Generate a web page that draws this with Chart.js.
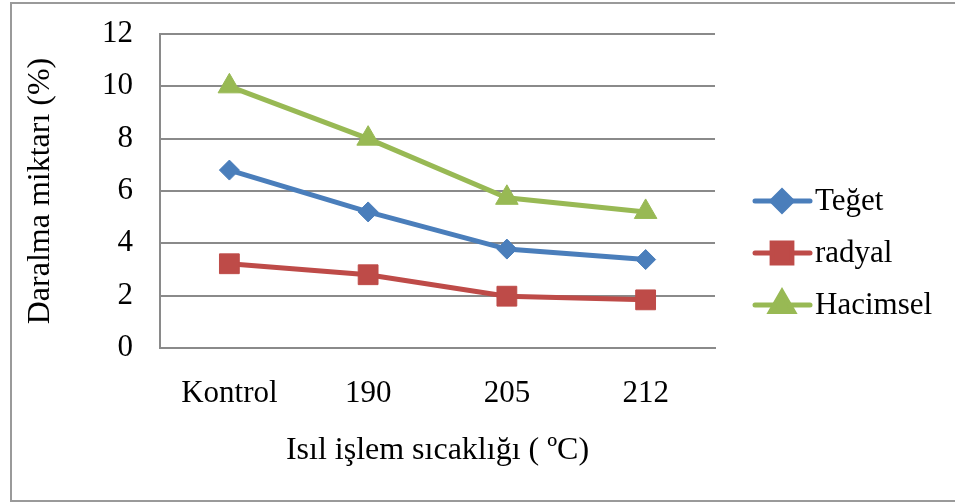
<!DOCTYPE html>
<html>
<head>
<meta charset="utf-8">
<script src="https://cdn.jsdelivr.net/npm/chart.js@4/dist/chart.umd.min.js"></script>
<style>
  html, body { margin: 0; padding: 0; background: #ffffff; }
  #wrap { width: 955px; height: 504px; position: relative; }
</style>
</head>
<body>
<div id="wrap"><canvas id="c" width="955" height="504"></canvas></div>
<script>
// Shrinkage after heat treatment (%)
const categories = ['Kontrol', '190', '205', '212'];
const teget    = [6.8, 5.2, 3.78, 3.38];
const radyal   = [3.22, 2.8, 1.98, 1.84];
const hacimsel = [10.0, 8.0, 5.74, 5.2];
const seriesNames = ['Teğet', 'radyal', 'Hacimsel'];
const yTicks = [0, 2, 4, 6, 8, 10, 12];

const FONT = '"Liberation Serif", "Times New Roman", serif';
const FS = 31;
const FS_TITLE = 32;
const GRID = '#8a8a8a';

// Legend: line segment with the series marker, then the series name
const sideLegend = {
  id: 'sideLegend',
  afterDraw(chart) {
    const ctx = chart.ctx;
    const x0 = 755, x1 = 810, xm = 782, tx = 815;
    const rows = [201, 253, 305];
    ctx.save();
    chart.data.datasets.forEach((ds, i) => {
      const y = rows[i];
      ctx.strokeStyle = ds.borderColor;
      ctx.lineWidth = ds.borderWidth;
      ctx.lineCap = 'round';
      ctx.beginPath();
      ctx.moveTo(x0, y);
      ctx.lineTo(x1, y);
      ctx.stroke();
      ctx.fillStyle = ds.pointBackgroundColor;
      ctx.strokeStyle = ds.pointBorderColor;
      Chart.helpers.drawPoint(ctx, {
        pointStyle: ds.pointStyle,
        radius: ds.pointRadius,
        rotation: 0,
        borderWidth: 1
      }, xm, y);
      ctx.fillStyle = '#000000';
      ctx.font = FS + 'px ' + FONT;
      ctx.textAlign = 'left';
      ctx.textBaseline = 'middle';
      ctx.fillText(ds.label, tx, y + 1);
    });
    ctx.restore();
  }
};

// Outer frame of the figure
const frame = {
  id: 'frame',
  beforeDraw(chart) {
    const ctx = chart.ctx;
    ctx.save();
    ctx.fillStyle = '#ffffff';
    ctx.fillRect(0, 0, chart.width, chart.height);
    ctx.strokeStyle = '#9a9a9a';
    ctx.lineWidth = 2;
    ctx.beginPath();
    ctx.moveTo(960, 3);
    ctx.lineTo(11, 3);
    ctx.lineTo(11, 501);
    ctx.lineTo(960, 501);
    ctx.stroke();
    ctx.restore();
  }
};

const mk = (label, data, color, style, r) => ({
  label, data,
  borderColor: color,
  backgroundColor: color,
  borderWidth: 5,
  pointStyle: style,
  pointRadius: r,
  pointHoverRadius: r,
  pointBackgroundColor: color,
  pointBorderColor: color,
  pointBorderWidth: 1,
  tension: 0
});

new Chart(document.getElementById('c'), {
  type: 'line',
  data: {
    labels: categories,
    datasets: [
      mk(seriesNames[0], teget, '#4a7ebb', 'rectRot', 10),
      mk(seriesNames[1], radyal, '#be4b48', 'rect', 14),
      mk(seriesNames[2], hacimsel, '#98b954', 'triangle', 13)
    ]
  },
  options: {
    responsive: false,
    animation: false,
    devicePixelRatio: 1,
    layout: { padding: { left: 20, right: 240, top: 34, bottom: 20 } },
    plugins: { legend: { display: false }, tooltip: { enabled: false } },
    scales: {
      x: {
        offset: true,
        grid: { display: false, drawTicks: false },
        border: { display: true, color: GRID, width: 2 },
        ticks: { color: '#000', font: { family: FONT, size: FS }, padding: 27, maxRotation: 0 },
        title: {
          display: true,
          text: 'Isıl işlem sıcaklığı ( ºC)',
          color: '#000',
          font: { family: FONT, size: FS_TITLE },
          padding: { top: 0, bottom: 14 }
        },
        afterFit(s) { s.height = 504 - 20 - 348; }
      },
      y: {
        min: 0, max: 12,
        afterBuildTicks(s) { s.ticks = yTicks.map(v => ({ value: v })); },
        grid: { color: GRID, lineWidth: 2, drawTicks: false },
        border: { display: true, color: GRID, width: 2 },
        ticks: { color: '#000', font: { family: FONT, size: FS }, padding: 27 },
        title: {
          display: true,
          text: 'Daralma miktarı (%)',
          color: '#000',
          font: { family: FONT, size: FS_TITLE },
          padding: { top: 1, bottom: 0 }
        },
        afterFit(s) {
          s.width = 160 - 20;
          s.paddingTop = 0;
          s.paddingBottom = 0;
        }
      }
    }
  },
  plugins: [frame, sideLegend]
});
</script>
</body>
</html>
